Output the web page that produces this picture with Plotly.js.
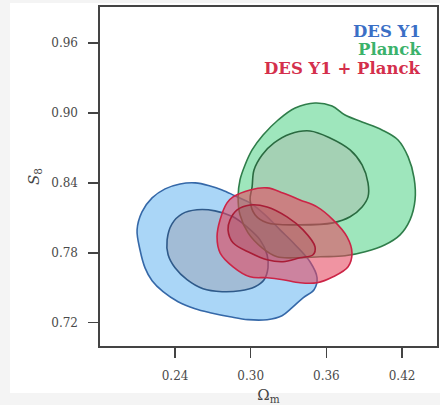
<!DOCTYPE html>
<html>
<head>
<meta charset="utf-8">
<script src="https://cdn.plot.ly/plotly-3.0.1.min.js"></script>
<style>html,body{margin:0;padding:0;background:#fff;}</style>
</head>
<body>
<div id="chart" style="width:440px;height:405px;"></div>
<script>
// Contour outlines (Omega_m, S8)
var desOuterX = [0.2099,0.2138,0.2218,0.2321,0.2440,0.2559,0.2678,0.2773,0.2876,0.2995,0.3114,0.3233,0.3352,0.3470,0.3526,0.3502,0.3415,0.3328,0.3248,0.3130,0.2979,0.2836,0.2678,0.2559,0.2424,0.2305,0.2218,0.2162,0.2122];
var desOuterY = [0.7997,0.8151,0.8271,0.8349,0.8391,0.8400,0.8374,0.8340,0.8289,0.8229,0.8126,0.7997,0.7869,0.7723,0.7586,0.7483,0.7414,0.7329,0.7260,0.7226,0.7226,0.7251,0.7286,0.7320,0.7380,0.7466,0.7560,0.7671,0.7826];
var desInnerX = [0.2337,0.2376,0.2456,0.2574,0.2717,0.2860,0.2979,0.3074,0.3130,0.3137,0.3106,0.3034,0.2915,0.2773,0.2622,0.2495,0.2400,0.2345];
var desInnerY = [0.7911,0.8049,0.8134,0.8169,0.8160,0.8109,0.8014,0.7911,0.7783,0.7671,0.7569,0.7509,0.7474,0.7466,0.7491,0.7569,0.7671,0.7783];
var plOuterX = [0.2915,0.2955,0.3011,0.3098,0.3217,0.3352,0.3510,0.3645,0.3748,0.3883,0.4041,0.4168,0.4248,0.4295,0.4303,0.4263,0.4184,0.4065,0.3907,0.3748,0.3550,0.3352,0.3209,0.3090,0.2979,0.2915,0.2900];
var plOuterY = [0.8426,0.8554,0.8683,0.8811,0.8940,0.9043,0.9086,0.9060,0.8983,0.8923,0.8854,0.8768,0.8623,0.8443,0.8254,0.8083,0.7954,0.7869,0.7809,0.7774,0.7766,0.7757,0.7766,0.7843,0.7971,0.8126,0.8280];
var plInnerX = [0.3011,0.3026,0.3090,0.3185,0.3312,0.3470,0.3629,0.3788,0.3883,0.3930,0.3930,0.3883,0.3788,0.3653,0.3391,0.3130,0.3034,0.2995];
var plInnerY = [0.8366,0.8511,0.8640,0.8743,0.8820,0.8846,0.8786,0.8683,0.8554,0.8400,0.8280,0.8194,0.8109,0.8057,0.8040,0.8057,0.8126,0.8254];
var combOuterX = [0.2812,0.2860,0.2995,0.3130,0.3256,0.3391,0.3526,0.3653,0.3764,0.3803,0.3772,0.3653,0.3526,0.3391,0.3256,0.3130,0.2995,0.2860,0.2757,0.2733,0.2757];
var combOuterY = [0.8229,0.8280,0.8340,0.8357,0.8314,0.8254,0.8194,0.8083,0.7937,0.7800,0.7680,0.7594,0.7543,0.7543,0.7569,0.7586,0.7594,0.7680,0.7800,0.7937,0.8083];
var combInnerX = [0.2820,0.2836,0.2892,0.2995,0.3130,0.3288,0.3415,0.3510,0.3494,0.3391,0.3256,0.3130,0.2995,0.2860];
var combInnerY = [0.7997,0.8083,0.8169,0.8211,0.8194,0.8109,0.7997,0.7851,0.7783,0.7757,0.7723,0.7740,0.7800,0.7886];

var seriesNames = ["DES Y1", "Planck", "DES Y1 + Planck"];
var xTicks = [0.24, 0.30, 0.36, 0.42];
var yTicks = [0.72, 0.78, 0.84, 0.90, 0.96];

function closed(a){ return a.concat([a[0]]); }
function contour(xs, ys, fill, line){
  return {type:'scatter', mode:'lines', x:closed(xs), y:closed(ys), fill:'toself',
    fillcolor:fill, line:{color:line, width:1.6, shape:'spline', smoothing:1}, hoverinfo:'skip', showlegend:false};
}

var data = [
  contour(desOuterX, desOuterY, 'rgba(100,180,240,0.55)', '#3568a8'),
  contour(desInnerX, desInnerY, 'rgba(150,150,165,0.40)', '#2f5a8a'),
  contour(plOuterX, plOuterY, 'rgba(40,200,106,0.45)', '#2f7d4a'),
  contour(plInnerX, plInnerY, 'rgba(175,170,165,0.35)', '#2a6a40'),
  contour(combOuterX, combOuterY, 'rgba(230,70,95,0.58)', '#cc2446'),
  contour(combInnerX, combInnerY, 'rgba(140,40,55,0.20)', '#a81d36')
];

var serif = 'DejaVu Serif, Liberation Serif, serif';
var legColors = ['#3b6fc6', '#3bb26b', '#d42f4c'];
var legY = [0.929, 0.876, 0.820];
var annotations = seriesNames.map(function(n, i){
  return {text:'<b>'+n+'</b>', xref:'paper', yref:'paper', x:0.958, y:legY[i], xanchor:'right', yanchor:'middle',
    showarrow:false, font:{family:serif, size:16.5, color:legColors[i]}};
});

var layout = {
  width:440, height:405,
  margin:{l:100, r:3, t:7, b:59},
  paper_bgcolor:'#f4f4f4', plot_bgcolor:'#ffffff',
  showlegend:false,
  xaxis:{range:[0.1805,0.4477], tickvals:xTicks, ticktext:xTicks.map(function(v){return v.toFixed(2);}),
    ticks:'outside', ticklen:10, tickwidth:1.5, tickcolor:'#444', showgrid:false, zeroline:false,
    showline:true, mirror:true, linecolor:'#444', linewidth:1.6, ticklabelstandoff:8,
    tickfont:{family:serif, size:12, color:'#4a4a4a'},
    title:{text:'Ω<sub>m</sub>', font:{family:serif, size:15, color:'#444'}, standoff:7}},
  yaxis:{range:[0.700,0.991], tickvals:yTicks, ticktext:yTicks.map(function(v){return v.toFixed(2);}),
    ticks:'outside', ticklen:10, tickwidth:1.5, tickcolor:'#444', showgrid:false, zeroline:false,
    showline:true, mirror:true, linecolor:'#444', linewidth:1.6, ticklabelstandoff:8,
    tickfont:{family:serif, size:12, color:'#4a4a4a'},
    title:{text:'<i>S</i><sub>8</sub>', font:{family:serif, size:15, color:'#444'}, standoff:8}},
  shapes:[{type:'rect', xref:'paper', yref:'paper', x0:-0.267, x1:1.02, y0:-0.139, y1:1.012,
    fillcolor:'#ffffff', line:{width:0}, layer:'below'}],
  annotations:annotations
};

Plotly.newPlot('chart', data, layout, {displayModeBar:false, staticPlot:true});
</script>
</body>
</html>
